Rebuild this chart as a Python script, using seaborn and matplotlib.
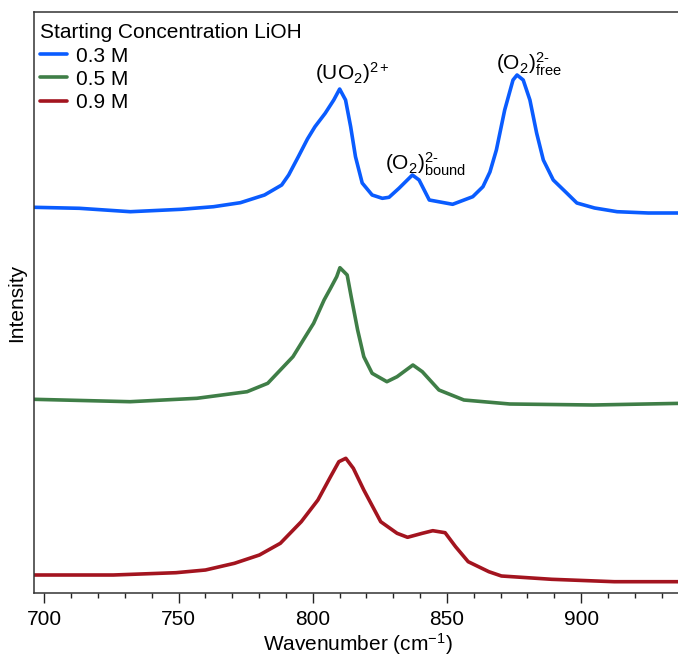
import matplotlib
matplotlib.use("Agg")
import matplotlib.pyplot as plt
from matplotlib.ticker import MultipleLocator
import pandas as pd
import seaborn as sns

# Raman spectra (wavenumber in cm^-1, intensity in arbitrary units above each trace's offset)
wn_03 = [696, 713, 732, 751, 763, 773, 782, 788.4, 791, 794.6, 798, 800.8, 804.6, 807.8, 810,
         812.2, 814.1, 815.9, 818.4, 822.1, 825.9, 828.4, 832.1, 837.1, 839.6, 843.4,
         852.1, 859.6, 863.4, 866, 868.4, 871.5, 874.6, 876.1, 878.4, 880.9, 883.4,
         885.9, 889.6, 894.6, 898.4, 905, 913.4, 925, 938]
int_03 = [15.7, 14.7, 11.3, 13.7, 16.3, 20.3, 28, 38, 48, 66.3, 84, 96.3, 109.7, 123, 134,
          123, 96.3, 66.3, 40, 28, 24.7, 25.7, 34.7, 48, 43, 23,
          18.7, 26.3, 36.3, 51, 73, 113, 143, 148, 143, 123, 90,
          63, 43, 30, 20, 15, 11.3, 10, 10]

wn_05 = [696, 731.9, 756.8, 775.5, 783.2, 792.6, 797.2, 800.3, 804.2, 806.6, 808.9,
         810.1, 812.8, 814.3, 816.7, 819, 822.1, 827.6, 831.4, 837.3, 840.8, 847,
         856.3, 873.4, 904.5, 938]
int_05 = [18.7, 16.3, 19.7, 26.3, 34.7, 61.3, 81.3, 94.7, 118, 129.7, 141.3,
          150.3, 143, 121.3, 88, 61.3, 44.7, 36.3, 41.3, 53, 46.3, 28,
          18, 14, 13, 14.7]

wn_09 = [696, 725.7, 749, 760, 770.8, 780.1, 787.9, 795.7, 801.9, 806.6, 809.7, 812.3,
         815.1, 819, 825.3, 831.4, 835.3, 840.8, 844.7, 849.3, 853.2, 857.9, 865.6,
         870.3, 889, 912.3, 938]
int_09 = [18, 18, 20.3, 23, 29.7, 38, 49.7, 71.3, 93, 116.3, 131.3, 134.7,
          124.7, 103, 71.3, 59.7, 55.7, 59.7, 62.3, 60.3, 46.3, 31.3, 21.3,
          17, 13.7, 11.3, 11.3]

labels = ["0.3 M", "0.5 M", "0.9 M"]
offsets = [370, 175, 0]
colors = ["#0a5cff", "#3f7e47", "#a3141f"]

frames = []
for lab, wn, inten, off in zip(labels, [wn_03, wn_05, wn_09], [int_03, int_05, int_09], offsets):
    frames.append(pd.DataFrame({"Wavenumber": wn,
                                "Intensity": [v + off for v in inten],
                                "LiOH": lab}))
df = pd.concat(frames, ignore_index=True)

sns.set_theme(style="white")
plt.rcParams["font.family"] = ["Liberation Sans", "DejaVu Sans"]
plt.rcParams["mathtext.fontset"] = "custom"
plt.rcParams["mathtext.rm"] = "Liberation Sans"
plt.rcParams["mathtext.it"] = "Liberation Sans:italic"
plt.rcParams["mathtext.bf"] = "Liberation Sans:bold"
plt.rcParams["text.color"] = "black"
plt.rcParams["axes.labelcolor"] = "black"
plt.rcParams["xtick.color"] = "black"

fig = plt.figure(figsize=(6.78, 6.59), dpi=100)
ax = fig.add_axes([34 / 678, 66 / 659, 1.006 - 34 / 678, (593 - 12) / 659])

sns.lineplot(data=df, x="Wavenumber", y="Intensity", hue="LiOH",
             palette=dict(zip(labels, colors)), hue_order=labels,
             linewidth=2.6, estimator=None, sort=True, ax=ax,
             solid_joinstyle="round", solid_capstyle="round")

ax.set_xlim(696.1, 937.6)
ax.set_ylim(0, 581)
ax.set_yticks([])
ax.xaxis.set_major_locator(MultipleLocator(50))
ax.xaxis.set_minor_locator(MultipleLocator(10))
ax.tick_params(axis="x", which="major", direction="out", length=7.5, width=1.0,
               color="#222222", labelsize=15, pad=5, bottom=True)
ax.tick_params(axis="x", which="minor", direction="out", length=3.5, width=1.0,
               color="#222222", bottom=True)
for sp in ax.spines.values():
    sp.set_color("#333333")
    sp.set_linewidth(1.1)

ax.set_xlabel(r"Wavenumber (cm$^{-1}$)", fontsize=15, labelpad=1)
ax.set_ylabel("Intensity", fontsize=15, labelpad=6)

handles, _ = ax.get_legend_handles_labels()
leg = ax.legend(handles=handles, labels=labels, title="Starting Concentration LiOH",
                loc="upper left", bbox_to_anchor=(-0.0084, 1.0), frameon=False,
                fontsize=15, title_fontsize=15,
                alignment="left", handlelength=1.3, handletextpad=0.45,
                labelspacing=0.2, borderaxespad=0.0, borderpad=0.55)

# Band assignments
ax.text(800.8, 513, r"(UO$_2$)$^{2+}$", fontsize=15, ha="left", va="baseline")
ax.text(826.9, 423, r"(O$_2$)$^{2\text{-}}_{\mathrm{bound}}$", fontsize=15, ha="left", va="baseline")
ax.text(868.2, 523, r"(O$_2$)$^{2\text{-}}_{\mathrm{free}}$", fontsize=15, ha="left", va="baseline")

fig.savefig("out.png", dpi=100)
